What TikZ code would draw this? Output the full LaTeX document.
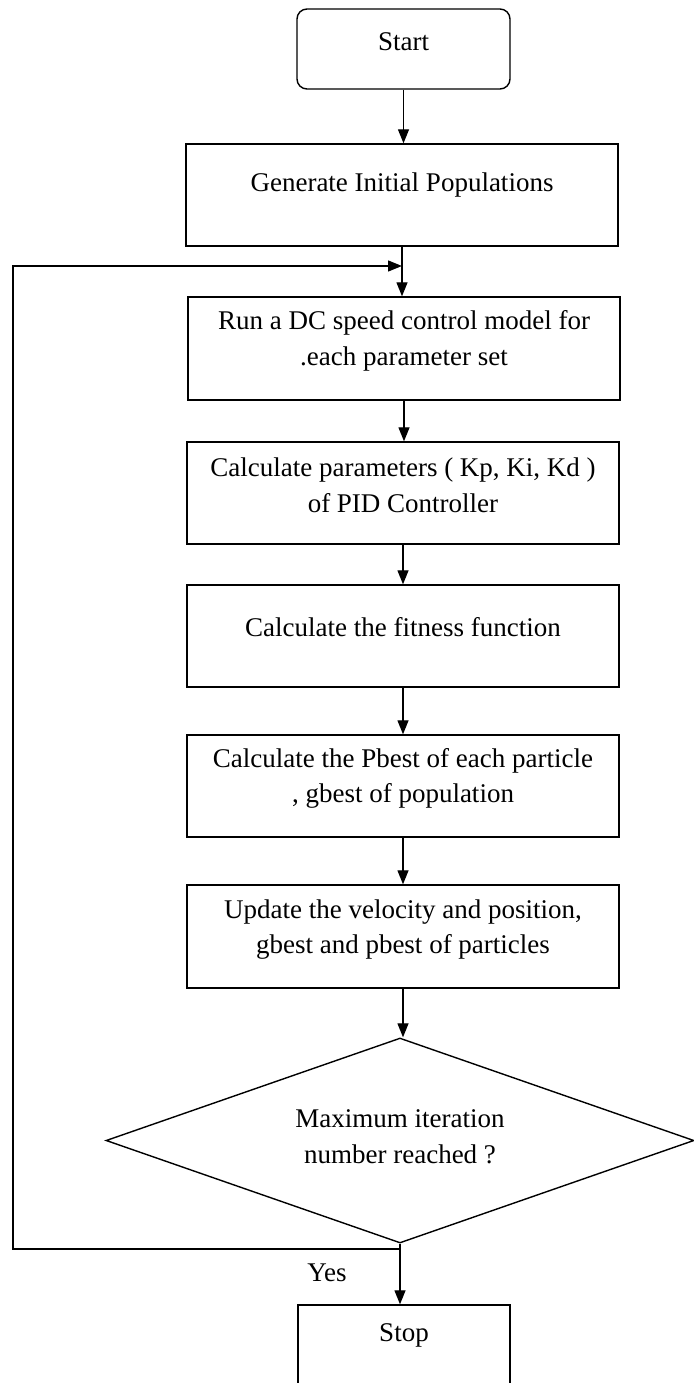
\documentclass[tikz,border=0pt]{standalone}
\usepackage{fontspec}
\setmainfont{Liberation Serif}
\usetikzlibrary{arrows.meta,shapes.geometric}
\tikzset{
  box/.style={draw, line width=1.4pt, minimum width=432pt, minimum height=102pt, inner sep=0pt},
  txt/.style={font=\fontsize{27}{35.5}\selectfont, align=center, inner sep=0pt},
  arr/.style={-{Triangle[length=14pt,width=11pt]}, line width=1.3pt},
  link/.style={line width=1.3pt}
}
\begin{document}
\begin{tikzpicture}[x=1pt,y=-1pt]
\useasboundingbox[fill=white] (0,0) rectangle (693,1383);
\node[box, rounded corners=10pt, minimum width=213pt, minimum height=80pt,
      label={[txt,yshift=7pt]center:Start}] (start) at (403.5,49) {};
\node[box, label={[txt,yshift=10pt]center:Generate Initial Populations}] (gen) at (402,195) {};
\node[box, minimum height=103pt, label={[txt,yshift=7.5pt]center:{Run a DC speed control model for\\.each parameter set}}] (run) at (404,348.5) {};
\node[box, label={[txt,yshift=7.5pt]center:{Calculate parameters ( Kp, Ki, Kd )\\of PID Controller}}] (calc) at (403,493) {};
\node[box, label={[txt,yshift=9pt]center:Calculate the fitness function}] (fit) at (403,636) {};
\node[box, label={[txt,yshift=7.5pt]center:{Calculate the Pbest of each particle\\, gbest of population}}] (pb) at (403,786) {};
\node[box, minimum height=103pt, label={[txt,yshift=7pt]center:{Update the velocity and position,\\gbest and pbest of particles}}] (upd) at (403,936.5) {};
\node[draw, line width=1.4pt, shape=diamond, minimum width=588pt, minimum height=205pt, inner sep=0pt,
      label={[txt,yshift=4pt]center:{Maximum iteration\\number reached ?}}] (dia) at (400,1140.5) {};
\node[box, minimum width=212pt, minimum height=82pt, label={[txt,yshift=11pt]center:Stop}] (stop) at (404,1346) {};
\node[txt] (yes) at (327,1273) {Yes};

\draw[arr] (start.south) -- (start.south |- gen.north);
\draw[arr] (gen.south) -- (gen.south |- run.north);
\draw[arr] (run.south) -- (run.south |- calc.north);
\draw[arr] (calc.south) -- (calc.south |- fit.north);
\draw[arr] (fit.south) -- (fit.south |- pb.north);
\draw[arr] (pb.south) -- (pb.south |- upd.north);
\draw[arr] (upd.south) -- (upd.south |- dia.north);
\draw[arr] (dia.south) -- (dia.south |- stop.north);
\coordinate (lb) at (13,1249);
\coordinate (lt) at (13,266);
\draw[arr] (dia.south |- lb) -- (lb) -- (lt) -- (gen.south |- lt);
\end{tikzpicture}
\end{document}
